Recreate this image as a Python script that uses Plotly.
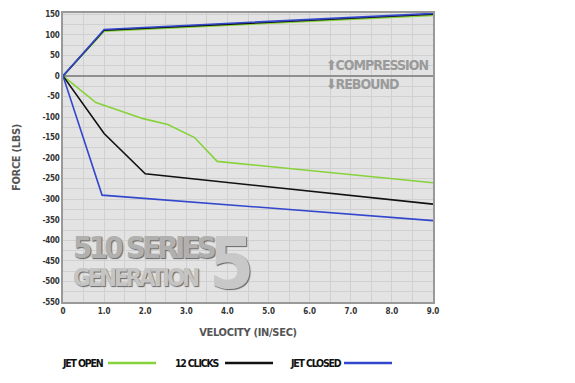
import plotly.graph_objects as go

# Velocity (in/sec) and force (lbs); compression branch first (reversed), then rebound
jet_open_x = [9.0, 1.0, 0.0, 0.8, 1.95, 2.55, 3.2, 3.75, 9.0]
jet_open_y = [147, 109, 0, -65, -104, -118, -150, -208, -260]

clicks12_x = [9.0, 1.0, 0.0, 1.0, 2.0, 9.0]
clicks12_y = [150, 111, 0, -140, -238, -312]

jet_closed_x = [9.0, 1.0, 0.0, 0.95, 9.0]
jet_closed_y = [152, 113, 0, -290, -352]

x_ticks = [0, 1, 2, 3, 4, 5, 6, 7, 8, 9]
x_tick_labels = ["0", "1.0", "2.0", "3.0", "4.0", "5.0", "6.0", "7.0", "8.0", "9.0"]
y_ticks = list(range(-550, 151, 50))

series_names = ["JET OPEN", "12 CLICKS", "JET CLOSED"]
series_colors = ["#86d23a", "#111111", "#3347cc"]

FONT = "DejaVu Sans Condensed, DejaVu Sans"
OFF = 8  # page body margin
W, H = 575 - OFF, 383 - OFF
L, R, T, B = 63 - OFF, 142, 13 - OFF, 81
PW, PH = W - L - R, H - T - B


def px_to_paper(px, py):
    return (px - OFF - L) / PW, (H - B - (py - OFF)) / PH


def cfont(size, color):
    return dict(size=size, color=color, family=FONT, weight="bold")


def cond(t, ls=0):
    return f'<span style="font-stretch:condensed;letter-spacing:{ls}px">{t}</span>'


fig = go.Figure()
for name, xs, ys, col in zip(series_names,
                             [jet_open_x, clicks12_x, jet_closed_x],
                             [jet_open_y, clicks12_y, jet_closed_y],
                             series_colors):
    fig.add_trace(go.Scatter(x=xs, y=ys, mode="lines", name=name,
                             line=dict(color=col, width=1.6), showlegend=False))

fig.update_layout(
    width=W, height=H,
    margin=dict(l=L, r=R, t=T, b=B, autoexpand=False),
    paper_bgcolor="white", plot_bgcolor="#e3e3e3",
    font=dict(family=FONT, color="#333333"),
)
fig.update_xaxes(
    range=[0, 9], tickvals=x_ticks, ticktext=[cond(t) for t in x_tick_labels],
    tickfont=cfont(8, "#333333"), automargin=False,
    showgrid=True, gridcolor="#d0d0d0", gridwidth=1,
    minor=dict(dtick=0.5, showgrid=True, gridcolor="#d0d0d0"),
    showline=True, linecolor="#999999", linewidth=2, mirror=True,
    zeroline=False, ticks="",
    title=dict(text=cond("VELOCITY (IN/SEC)", -0.3), font=cfont(11, "#555555"), standoff=14),
)
fig.update_yaxes(
    range=[-550, 153], tickvals=y_ticks, ticktext=[cond(str(v), -0.3) for v in y_ticks],
    automargin=False, tickfont=cfont(8, "#333333"),
    showgrid=True, gridcolor="#d0d0d0", gridwidth=1,
    minor=dict(dtick=25, showgrid=True, gridcolor="#d0d0d0"),
    showline=True, linecolor="#999999", linewidth=2, mirror=True,
    zeroline=True, zerolinecolor="#909090", zerolinewidth=1.5, ticks="",
    title=dict(text=cond("FORCE (LBS)", -0.3), font=cfont(11, "#555555"), standoff=20),
)

# Compression / rebound labels
fig.add_annotation(x=6.35, y=26, xref="x", yref="y", text=cond("⬆COMPRESSION", -1), showarrow=False,
                   xanchor="left", yanchor="middle", font=cfont(14, "#9a9a9a"))
fig.add_annotation(x=6.35, y=-20, xref="x", yref="y", text=cond("⬇REBOUND", -1), showarrow=False,
                   xanchor="left", yanchor="middle", font=cfont(14, "#9a9a9a"))

# Watermark
wm = dict(shadow="1px 1px 1px #666")
fig.add_annotation(x=0.2, y=-415, xref="x", yref="y", text=cond("510 SERIES", -3.8), showarrow=False,
                   xanchor="left", yanchor="middle", font={**cfont(31, "#b0b0b0"), **wm})
fig.add_annotation(x=0.2, y=-492, xref="x", yref="y", text=cond("GENERATION", -3.2), showarrow=False,
                   xanchor="left", yanchor="middle", font={**cfont(24, "#c4c4c4"), **wm})
fig.add_annotation(x=3.5, y=-455, xref="x", yref="y", text=cond("5"), showarrow=False,
                   xanchor="left", yanchor="middle", font={**cfont(72, "#c8c8c8"), **wm})

# Custom legend: label then line sample
legend_label_x = [60, 173, 288]
legend_line_x = [108, 225, 344]
for name, col, lx, sx in zip(series_names, series_colors, legend_label_x, legend_line_x):
    ax, ay = px_to_paper(lx, 363)
    fig.add_annotation(x=ax, y=ay, xref="paper", yref="paper", text=cond(name, -1.2),
                       showarrow=False, xanchor="left", yanchor="middle",
                       font=cfont(10.5, "#111111"))
    s0, sy = px_to_paper(sx, 363)
    s1, _ = px_to_paper(sx + 48, 363)
    fig.add_shape(type="line", xref="paper", yref="paper",
                  x0=s0, x1=s1, y0=sy, y1=sy, line=dict(color=col, width=2.5))

fig.write_html("out.html")
